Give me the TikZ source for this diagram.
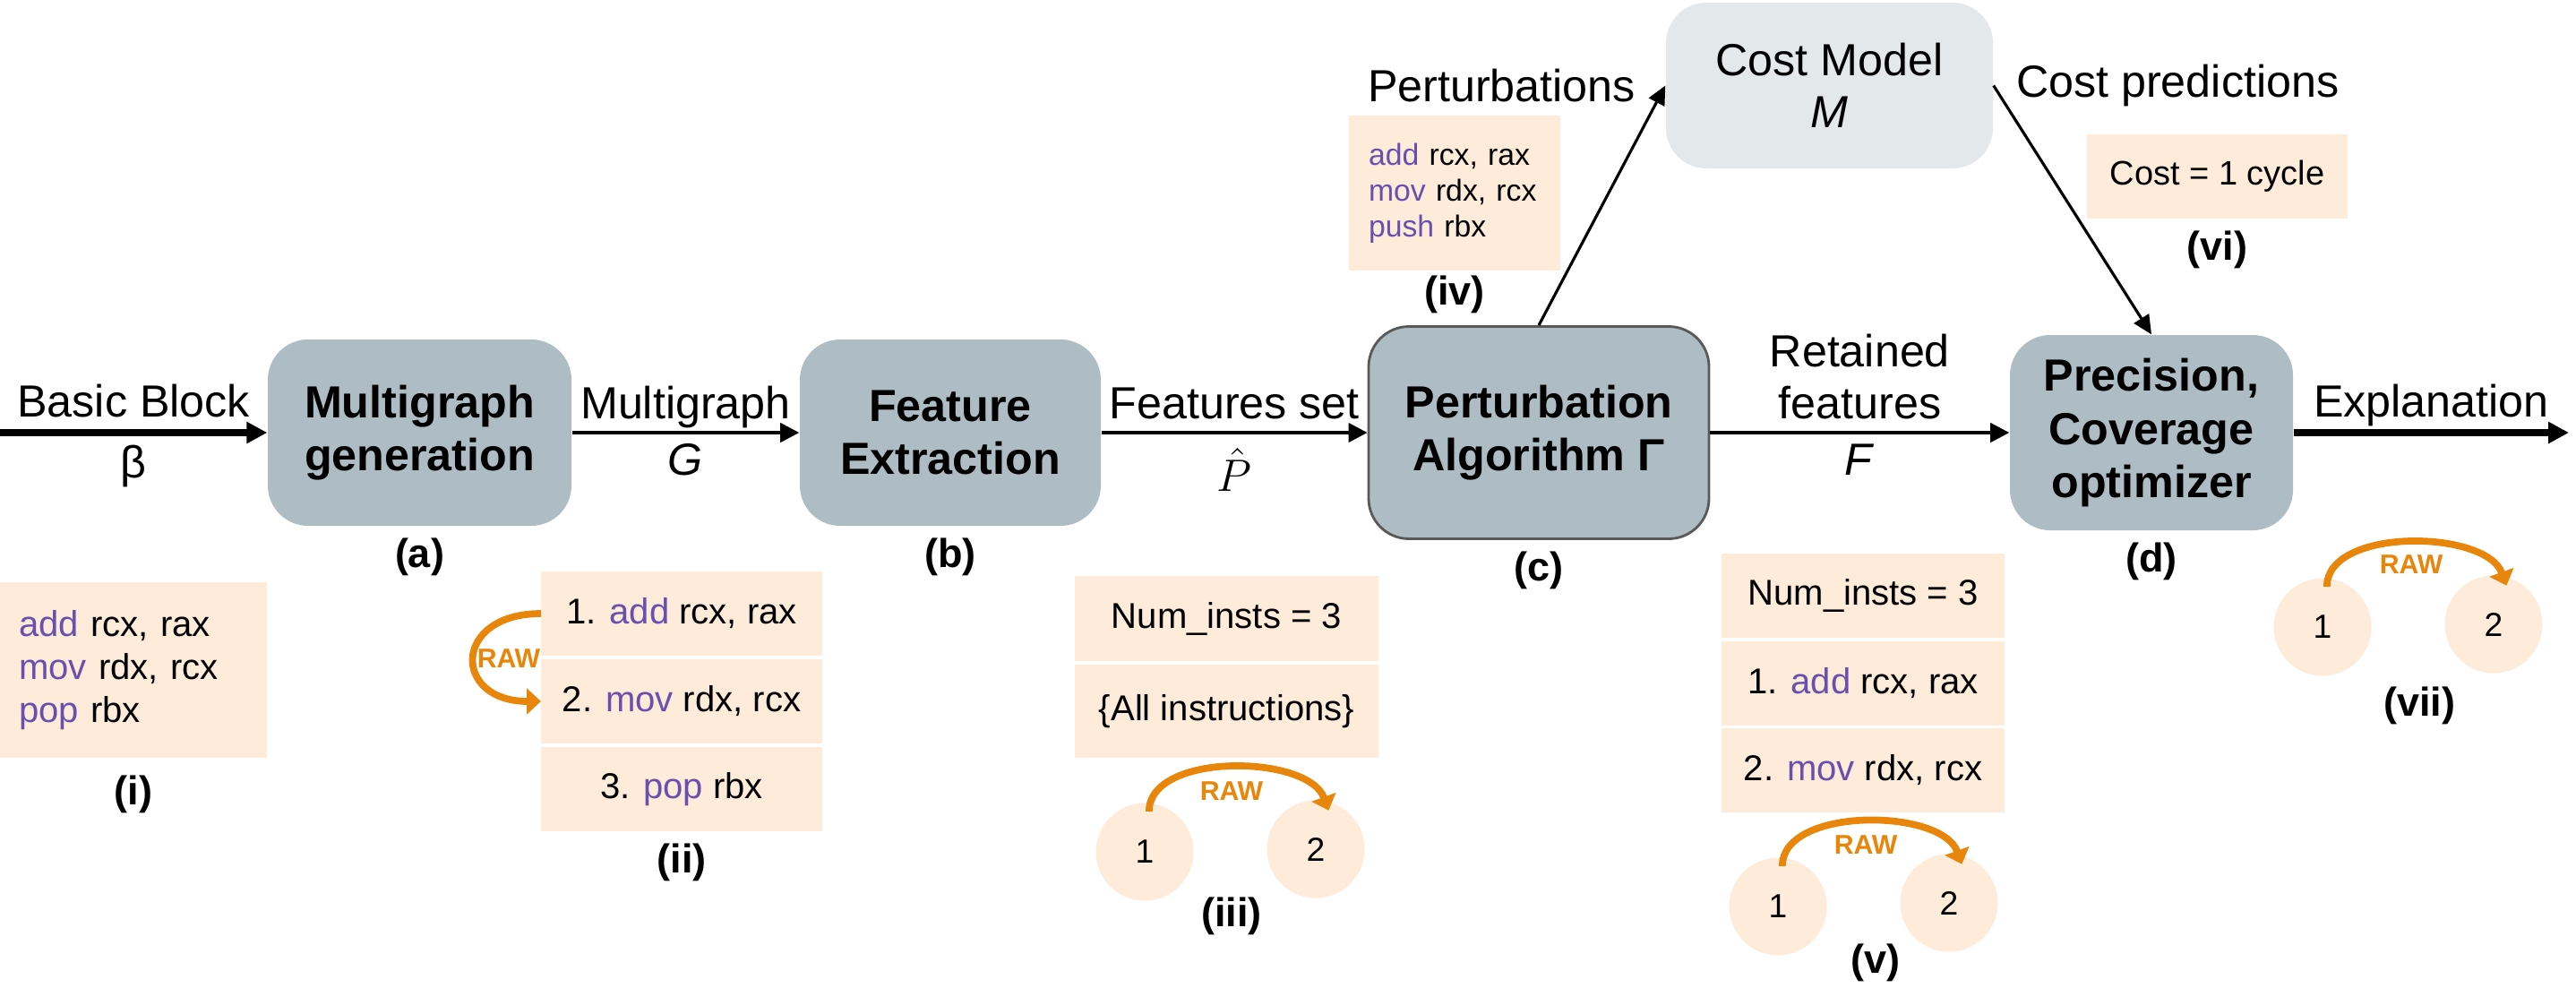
\documentclass[tikz,border=0pt]{standalone}
\usepackage{fontspec}
\setmainfont{Liberation Sans}
\usetikzlibrary{arrows.meta}
\usetikzlibrary{positioning}

\definecolor{boxgray}{HTML}{AEBCC3}
\definecolor{cmgray}{HTML}{E3E8EB}
\definecolor{peach}{HTML}{FEEBD9}
\definecolor{mnem}{HTML}{6A50AC}
\definecolor{raworange}{HTML}{E8860C}
\newcommand{\mnem}[1]{\textcolor{mnem}{#1}}

\begin{document}
\begin{tikzpicture}[
    x=1cm, y=1cm,
    stage/.style={fill=boxgray, rounded corners=4.5mm, align=center, inner sep=2pt,
      font=\bfseries\fontsize{14.3}{17}\selectfont},
    lab/.style={font=\fontsize{14.3}{16.5}\selectfont, align=center},
    toplab/.style={lab, above, inner sep=1pt, text depth=3pt},
    botlab/.style={lab, below, inner sep=3pt},
    tag/.style={font=\bfseries\fontsize{12.8}{15}\selectfont, inner sep=0pt},
    cell/.style={fill=peach, inner sep=0pt, outer sep=0pt, align=center,
      font=\fontsize{11.4}{13.7}\selectfont},
    gnode/.style={circle, fill=peach, minimum size=1.09cm, inner sep=0pt,
      font=\fontsize{10.6}{12}\selectfont},
    dep/.style={draw=raworange, line width=2.2pt, -{Triangle[length=4.5pt,width=8pt]}},
    rawlab/.style={text=raworange, font=\bfseries\fontsize{8.6}{10}\selectfont, inner sep=0pt},
    flow/.style={line width=1.1pt, -{Triangle[length=6pt,width=6pt]}},
    thinflow/.style={line width=0.9pt, -{Triangle[length=6pt,width=5.5pt]}},
    bigflow/.style={line width=2.2pt, -{Triangle[length=6.5pt,width=6.5pt]}}
  ]
  \useasboundingbox (0,0) rectangle (28.76,-11.02);

  % pipeline
  \node[stage, minimum width=3.39cm, minimum height=2.08cm] (gen) at (4.685,-4.83) {Multigraph\\generation};
  \node[stage, minimum width=3.36cm, minimum height=2.08cm] (feat) at (10.61,-4.83) {Feature\\Extraction};
  \node[stage, draw=black!65, line width=0.8pt, minimum width=3.80cm, minimum height=2.37cm] (pert) at (17.18,-4.83) {Perturbation\\Algorithm Γ};
  \node[stage, minimum width=3.16cm, minimum height=2.18cm] (prec) at (24.02,-4.83) {Precision,\\Coverage\\optimizer};
  \node[stage, fill=cmgray, font=\fontsize{14.3}{16.5}\selectfont, minimum width=3.65cm, minimum height=1.85cm] (cm) at (20.425,-0.955) {Cost Model\\\textit{M}};

  \node[tag, below=1.2mm of gen] (taga) {(a)};
  \node[tag, below=1.2mm of feat] (tagb) {(b)};
  \node[tag, below=1.2mm of pert] (tagc) {(c)};
  \node[tag, below=1.2mm of prec] (tagd) {(d)};

  \coordinate (bbin) at (0,-4.83);
  \coordinate (expl) at (28.68,-4.83);
  \draw[bigflow] (bbin) -- node[toplab] {Basic Block} node[botlab] {β} (gen);
  \draw[flow] (gen) -- node[toplab] {Multigraph} node[botlab] {\textit{G}} (feat);
  \draw[flow] (feat) -- node[toplab] {Features set} node[botlab, inner sep=4.5pt] {$\hat{P}$} (pert);
  \draw[flow] (pert) -- node[toplab] {Retained\\features} node[botlab] {\textit{F}} (prec);
  \draw[bigflow] (prec) -- node[toplab] {Explanation} (expl);
  \draw[thinflow] (pert.north) -- node[lab, at end, left=2mm] {Perturbations} (cm.west);
  \draw[thinflow] (cm.east) -- node[lab, at start, right=1.2mm] {Cost predictions} (prec.north);

  % (i) basic block
  \node[cell, minimum width=2.98cm, minimum height=1.96cm, text width=2.56cm, align=left] (blk) at (1.49,-7.48)
    {\mnem{add} rcx, rax\\\mnem{mov} rdx, rcx\\\mnem{pop} rbx};
  \node[tag, below=1.9mm of blk] (tagi) {(i)};

  % (ii) multigraph
  \node[cell, minimum width=3.14cm, minimum height=0.94cm] (ins1) at (7.61,-6.85) {1. \mnem{add} rcx, rax};
  \node[cell, minimum width=3.14cm, minimum height=0.94cm, below=0.04cm of ins1] (ins2) {2. \mnem{mov} rdx, rcx};
  \node[cell, minimum width=3.14cm, minimum height=0.94cm, below=0.04cm of ins2] (ins3) {3. \mnem{pop} rbx};
  \node[tag, below=1.3mm of ins3] (tagii) {(ii)};
  \draw[dep] (ins1.west) to[out=180, in=180, looseness=2.6] (ins2.west);
  \node[rawlab] (rawii) at (5.68,-7.35) {RAW};

  % (iii) features set
  \node[cell, minimum width=3.39cm, minimum height=0.95cm] (num3) at (13.695,-6.905) {Num\_insts = 3};
  \node[cell, minimum width=3.39cm, minimum height=1.04cm, below=0.04cm of num3] (all3) {\{All instructions\}};
  \node[gnode] (a3) at (12.78,-9.51) {1};
  \node[gnode] (b3) at (14.69,-9.48) {2};
  \draw[dep] ([yshift=-1mm]a3.85) to[out=90, in=110, looseness=0.85] ([yshift=-1mm]b3.75);
  \node[rawlab] (raw3) at (13.75,-8.83) {RAW};
  \node[tag] (tagiii) at (13.75,-10.23) {(iii)};

  % (iv) perturbations
  \node[cell, minimum width=2.36cm, minimum height=1.73cm, text width=1.92cm, align=left,
    font=\fontsize{9.6}{11.4}\selectfont] (pset) at (16.24,-2.155)
    {\mnem{add} rcx, rax\\\mnem{mov} rdx, rcx\\\mnem{push} rbx};
  \node[tag, below=0.5mm of pset] (tagiv) {(iv)};

  % (v) retained features
  \node[cell, minimum width=3.16cm, minimum height=0.94cm] (num5) at (20.80,-6.65) {Num\_insts = 3};
  \node[cell, minimum width=3.16cm, minimum height=0.94cm, below=0.035cm of num5] (ret1) {1. \mnem{add} rcx, rax};
  \node[cell, minimum width=3.16cm, minimum height=0.94cm, below=0.035cm of ret1] (ret2) {2. \mnem{mov} rdx, rcx};
  \node[gnode] (a5) at (19.85,-10.12) {1};
  \node[gnode] (b5) at (21.76,-10.08) {2};
  \draw[dep] ([yshift=-1mm]a5.85) to[out=90, in=110, looseness=0.85] ([yshift=-1mm]b5.75);
  \node[rawlab] (raw5) at (20.83,-9.43) {RAW};
  \node[tag] (tagv) at (20.94,-10.75) {(v)};

  % (vi) cost prediction
  \node[cell, minimum width=2.91cm, minimum height=0.94cm, font=\fontsize{10.8}{13}\selectfont] (cost) at (24.755,-1.97) {Cost = 1 cycle};
  \node[tag, below=1.3mm of cost] (tagvi) {(vi)};

  % (vii) explanation
  \node[gnode] (a7) at (25.93,-7.00) {1};
  \node[gnode] (b7) at (27.84,-6.97) {2};
  \draw[dep] ([yshift=-1mm]a7.85) to[out=90, in=110, looseness=0.85] ([yshift=-1mm]b7.75);
  \node[rawlab] (raw7) at (26.92,-6.30) {RAW};
  \node[tag] (tagvii) at (27.01,-7.88) {(vii)};
\end{tikzpicture}
\end{document}
